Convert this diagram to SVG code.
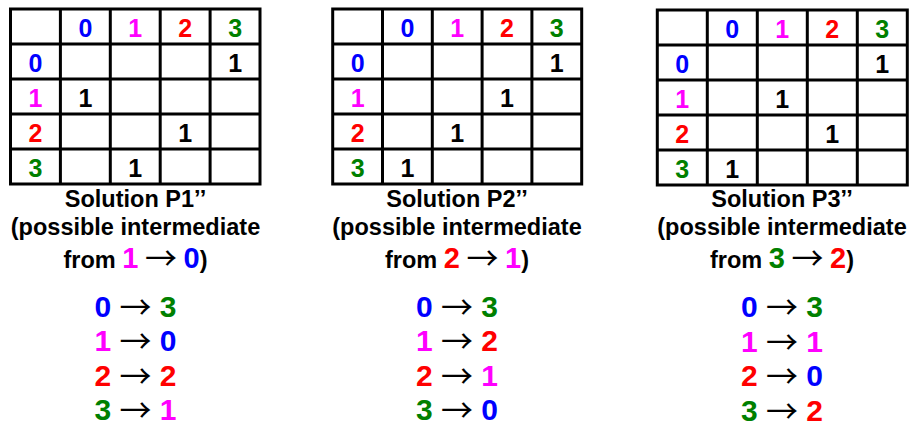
<svg xmlns="http://www.w3.org/2000/svg" width="912" height="423" viewBox="0 0 912 423">
<style>
text{font-family:"Liberation Sans",Arial,Helvetica,sans-serif;font-weight:bold;text-anchor:middle;fill:#000}
.g{fill:none;stroke:#000;stroke-width:3}
.c{font-size:25px}
.cap{font-size:23.5px}
.big{font-size:29px}
.m{font-size:30px}
.arr{font-family:"Noto Sans CJK SC","Noto Sans",sans-serif;font-weight:normal;font-size:32px}
.b{fill:#0000ff}.p{fill:#ff00ff}.r{fill:#ff0000}.gr{fill:#008000}
</style>
<rect width="912" height="423" fill="#fff"/>
<g id="panel1">
<path class="g" d="M10.5 9H260V184H10.5Z M60.4 9V184 M110.3 9V184 M160.2 9V184 M210.1 9V184 M10.5 44H260 M10.5 79H260 M10.5 114H260 M10.5 149H260"/>
<text class="c b" x="85.4" y="36.5">0</text><text class="c p" x="135.3" y="36.5">1</text><text class="c r" x="185.2" y="36.5">2</text><text class="c gr" x="235.1" y="36.5">3</text>
<text class="c b" x="35.5" y="71.5">0</text><text class="c p" x="35.5" y="106.5">1</text><text class="c r" x="35.5" y="141.5">2</text><text class="c gr" x="35.5" y="176.5">3</text>
<text class="c" x="235.1" y="71.5">1</text><text class="c" x="85.4" y="106.5">1</text><text class="c" x="185.2" y="141.5">1</text><text class="c" x="135.3" y="176.5">1</text>
<text class="cap" x="135.5" y="206.5">Solution P1’’</text>
<text class="cap" x="135.5" y="235">(possible intermediate</text>
<text class="cap" x="135.5" y="268">from <tspan class="big p">1</tspan> <tspan class="arr" dy="2">→</tspan> <tspan class="big b" dy="-2">0</tspan>)</text>
<text class="m" x="135.5" y="316.5"><tspan class="b">0</tspan> <tspan class="arr" dy="2">→</tspan> <tspan class="gr" dy="-2">3</tspan></text>
<text class="m" x="135.5" y="351"><tspan class="p">1</tspan> <tspan class="arr" dy="2">→</tspan> <tspan class="b" dy="-2">0</tspan></text>
<text class="m" x="135.5" y="385.5"><tspan class="r">2</tspan> <tspan class="arr" dy="2">→</tspan> <tspan class="r" dy="-2">2</tspan></text>
<text class="m" x="135.5" y="420"><tspan class="gr">3</tspan> <tspan class="arr" dy="2">→</tspan> <tspan class="p" dy="-2">1</tspan></text>
</g>
<g id="panel2">
<path class="g" d="M332.7 9H581.7V184H332.7Z M382.5 9V184 M432.3 9V184 M482.1 9V184 M531.9 9V184 M332.7 44H581.7 M332.7 79H581.7 M332.7 114H581.7 M332.7 149H581.7"/>
<text class="c b" x="407.4" y="36.5">0</text><text class="c p" x="457.2" y="36.5">1</text><text class="c r" x="507" y="36.5">2</text><text class="c gr" x="556.8" y="36.5">3</text>
<text class="c b" x="357.6" y="71.5">0</text><text class="c p" x="357.6" y="106.5">1</text><text class="c r" x="357.6" y="141.5">2</text><text class="c gr" x="357.6" y="176.5">3</text>
<text class="c" x="556.8" y="71.5">1</text><text class="c" x="507" y="106.5">1</text><text class="c" x="457.2" y="141.5">1</text><text class="c" x="407.4" y="176.5">1</text>
<text class="cap" x="457" y="206.5">Solution P2’’</text>
<text class="cap" x="457" y="235">(possible intermediate</text>
<text class="cap" x="457" y="268">from <tspan class="big r">2</tspan> <tspan class="arr" dy="2">→</tspan> <tspan class="big p" dy="-2">1</tspan>)</text>
<text class="m" x="457" y="316.5"><tspan class="b">0</tspan> <tspan class="arr" dy="2">→</tspan> <tspan class="gr" dy="-2">3</tspan></text>
<text class="m" x="457" y="351"><tspan class="p">1</tspan> <tspan class="arr" dy="2">→</tspan> <tspan class="r" dy="-2">2</tspan></text>
<text class="m" x="457" y="385.5"><tspan class="r">2</tspan> <tspan class="arr" dy="2">→</tspan> <tspan class="p" dy="-2">1</tspan></text>
<text class="m" x="457" y="420"><tspan class="gr">3</tspan> <tspan class="arr" dy="2">→</tspan> <tspan class="b" dy="-2">0</tspan></text>
</g>
<g id="panel3">
<path class="g" d="M657.3 10H907.3V185H657.3Z M707.3 10V185 M757.3 10V185 M807.3 10V185 M857.3 10V185 M657.3 45H907.3 M657.3 80H907.3 M657.3 115H907.3 M657.3 150H907.3"/>
<text class="c b" x="732.3" y="37.5">0</text><text class="c p" x="782.3" y="37.5">1</text><text class="c r" x="832.3" y="37.5">2</text><text class="c gr" x="882.3" y="37.5">3</text>
<text class="c b" x="682.3" y="72.5">0</text><text class="c p" x="682.3" y="107.5">1</text><text class="c r" x="682.3" y="142.5">2</text><text class="c gr" x="682.3" y="177.5">3</text>
<text class="c" x="882.3" y="72.5">1</text><text class="c" x="782.3" y="107.5">1</text><text class="c" x="832.3" y="142.5">1</text><text class="c" x="732.3" y="177.5">1</text>
<text class="cap" x="782" y="207">Solution P3’’</text>
<text class="cap" x="782" y="235">(possible intermediate</text>
<text class="cap" x="782" y="268">from <tspan class="big gr">3</tspan> <tspan class="arr" dy="2">→</tspan> <tspan class="big r" dy="-2">2</tspan>)</text>
<text class="m" x="782" y="317"><tspan class="b">0</tspan> <tspan class="arr" dy="2">→</tspan> <tspan class="gr" dy="-2">3</tspan></text>
<text class="m" x="782" y="351.5"><tspan class="p">1</tspan> <tspan class="arr" dy="2">→</tspan> <tspan class="p" dy="-2">1</tspan></text>
<text class="m" x="782" y="385.5"><tspan class="r">2</tspan> <tspan class="arr" dy="2">→</tspan> <tspan class="b" dy="-2">0</tspan></text>
<text class="m" x="782" y="420.5"><tspan class="gr">3</tspan> <tspan class="arr" dy="2">→</tspan> <tspan class="r" dy="-2">2</tspan></text>
</g>
<g id="connectors"/>
</svg>
